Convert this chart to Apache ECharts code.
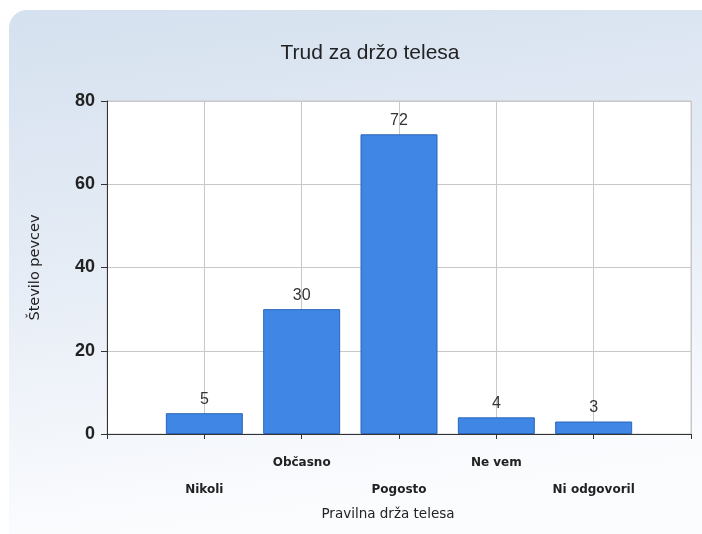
<!DOCTYPE html>
<html>
<head>
<meta charset="utf-8">
<script src="https://cdn.jsdelivr.net/npm/echarts@6/dist/echarts.min.js"></script>
<style>
  html, body { margin: 0; padding: 0; background: #fff; }
  #main { width: 702px; height: 534px; }
</style>
</head>
<body>
<div id="main"></div>
<script>
// padded with empty slots at both ends so the axis runs past the bars
var categories = ['', 'Nikoli', 'Občasno', 'Pogosto', 'Ne vem', 'Ni odgovoril', ''];
var values = [null, 5, 30, 72, 4, 3, null];
var yTicks = [0, 20, 40, 60, 80];

var chart = echarts.init(document.getElementById('main'));

var option = {
    animation: false,
    backgroundColor: '#ffffff',
    graphic: [{
        type: 'rect',
        z: -10,
        shape: { x: 9, y: 10, width: 702, height: 530, r: [18, 0, 0, 0] },
        style: {
            fill: new echarts.graphic.LinearGradient(0, 0, 0.1, 1, [
                { offset: 0, color: '#d5e1ef' },
                { offset: 0.45, color: '#e4ebf5' },
                { offset: 1, color: '#fbfcfe' }
            ])
        }
    }],
    title: {
        text: 'Trud za držo telesa',
        left: 365,
        textAlign: 'center',
        top: 38,
        textStyle: {
            fontFamily: 'Liberation Sans',
            fontWeight: 'normal',
            fontSize: 21,
            color: '#222'
        }
    },
    grid: {
        left: 107,
        right: 11,
        top: 101,
        bottom: 100,
        show: true,
        backgroundColor: '#ffffff',
        borderColor: '#c8c8c8',
        borderWidth: 1
    },
    xAxis: {
        type: 'category',
        data: categories,
        boundaryGap: false,
        name: 'Pravilna drža telesa',
        nameLocation: 'middle',
        nameGap: 62,
        nameTextStyle: {
            fontFamily: 'DejaVu Sans',
            fontSize: 13.5,
            color: '#222',
            padding: [0, 22, 0, 0]
        },
        axisLine: { lineStyle: { color: '#333', width: 1 } },
        axisTick: { show: true, length: 5, lineStyle: { color: '#333' } },
        splitLine: { show: true, lineStyle: { color: '#c8c8c8' } },
        axisLabel: {
            interval: 0,
            margin: 15,
            fontFamily: 'DejaVu Sans',
            fontWeight: 'bold',
            fontSize: 12,
            color: '#222',
            lineHeight: 27,
            formatter: function (v, i) {
                return (i % 2 === 1) ? '\n' + v : v;
            }
        }
    },
    yAxis: {
        type: 'value',
        min: 0,
        max: 80,
        interval: 20,
        name: 'Število pevcev',
        nameLocation: 'middle',
        nameGap: 64,
        nameTextStyle: {
            fontFamily: 'DejaVu Sans',
            fontSize: 14.5,
            color: '#222'
        },
        axisLine: { show: true, lineStyle: { color: '#333' } },
        axisTick: { show: true, length: 6, lineStyle: { color: '#333' } },
        splitLine: { lineStyle: { color: '#c8c8c8' } },
        axisLabel: {
            margin: 12,
            fontFamily: 'Liberation Sans',
            fontWeight: 'bold',
            fontSize: 18,
            color: '#222',
            formatter: function (v) {
                return yTicks.indexOf(v) >= 0 ? String(v) : '';
            }
        }
    },
    series: [{
        type: 'bar',
        data: values,
        barWidth: 77,
        itemStyle: {
            color: '#3f86e5',
            borderColor: '#2b66b8',
            borderWidth: 1
        },
        label: {
            show: true,
            position: 'top',
            distance: 6,
            fontFamily: 'Liberation Sans',
            fontSize: 16,
            color: '#333'
        }
    }]
};

chart.setOption(option);
</script>
</body>
</html>
